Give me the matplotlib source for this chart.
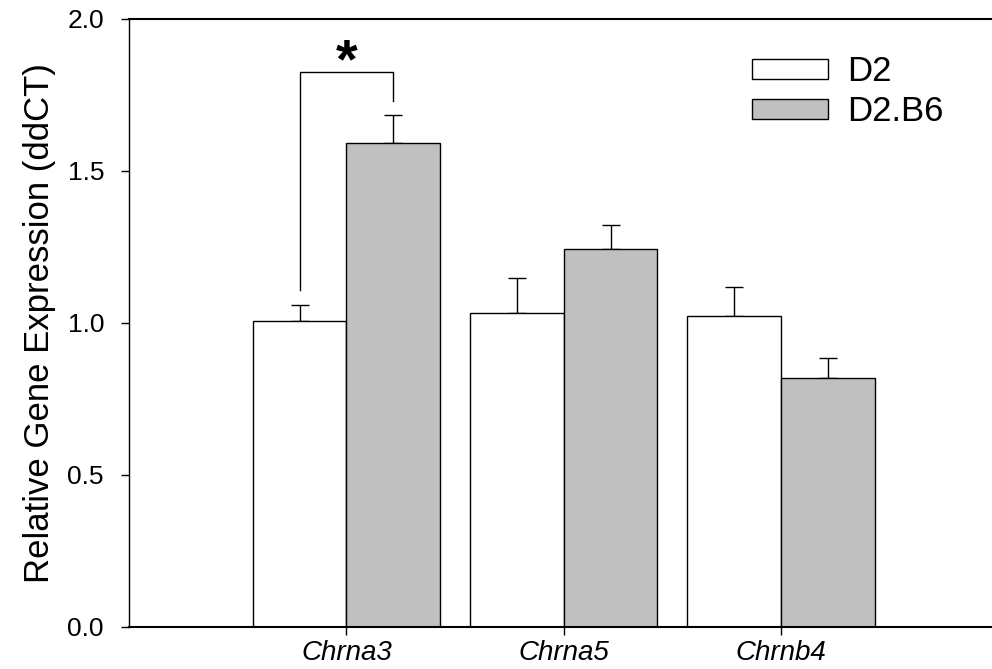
import numpy as np
import matplotlib
matplotlib.use("Agg")
import matplotlib.pyplot as plt

plt.rcParams['font.family'] = ['Liberation Sans', 'DejaVu Sans']

# data
genes = ["Chrna3", "Chrna5", "Chrnb4"]
d2_vals = [1.007, 1.033, 1.023]
d2_err = [0.053, 0.115, 0.095]
b6_vals = [1.592, 1.243, 0.819]
b6_err = [0.092, 0.079, 0.066]

# significance bracket for Chrna3 (left foot, top, right foot)
sig_left_foot = 1.109
sig_top = 1.826
sig_right_foot = 1.730
sig_star_y = 1.855

x = np.arange(len(genes))
w = 0.431

fig = plt.figure(figsize=(9.92, 6.69), dpi=100)
ax = fig.add_axes([129 / 992, 42 / 669, 1 - 129 / 992, 608 / 669])

ax.bar(x - w / 2, d2_vals, w, color="white", edgecolor="black", linewidth=1.0, label="D2", zorder=2)
ax.bar(x + w / 2, b6_vals, w, color="#c0c0c0", edgecolor="black", linewidth=1.0, label="D2.B6", zorder=2)

zeros = np.zeros(len(genes))
ax.errorbar(x - w / 2, d2_vals, yerr=[zeros, d2_err], fmt="none", ecolor="black",
            elinewidth=1.0, capsize=6.8, capthick=1.0, zorder=1)
ax.errorbar(x + w / 2, b6_vals, yerr=[zeros, b6_err], fmt="none", ecolor="black",
            elinewidth=1.0, capsize=6.8, capthick=1.0, zorder=1)

# bracket + star
ax.plot([x[0] - w / 2, x[0] - w / 2, x[0] + w / 2, x[0] + w / 2],
        [sig_left_foot, sig_top, sig_top, sig_right_foot], color="black", lw=1.0)
ax.text(x[0], sig_star_y, "*", ha="center", va="center", fontsize=40, fontweight="bold")

ax.set_xlim(-1.0, 2.97)
ax.set_ylim(0, 2.0)
ax.set_yticks([0.0, 0.5, 1.0, 1.5, 2.0])
ax.set_yticklabels(["0.0", "0.5", "1.0", "1.5", "2.0"])
ax.set_xticks(x)
ax.set_xticklabels(genes, fontstyle="italic", fontsize=20)
ax.tick_params(axis="y", labelsize=19, length=6, width=1.0, direction="out", pad=12)
ax.tick_params(axis="x", length=6, width=1.0, direction="out", pad=3)
ax.set_ylabel("Relative Gene Expression (ddCT)", fontsize=25, labelpad=8)

ax.spines["right"].set_visible(False)
ax.spines["top"].set_linewidth(1.5)
ax.spines["bottom"].set_linewidth(1.5)
ax.spines["left"].set_linewidth(1.0)

ax.legend(loc="upper left", bbox_to_anchor=(752 / 992, 1 - 55 / 669), bbox_transform=fig.transFigure,
          frameon=False, fontsize=25, handlelength=2.19, handleheight=0.52, handletextpad=0.55,
          borderpad=0, borderaxespad=0, labelspacing=0.2)

fig.savefig("out.png", dpi=100)
